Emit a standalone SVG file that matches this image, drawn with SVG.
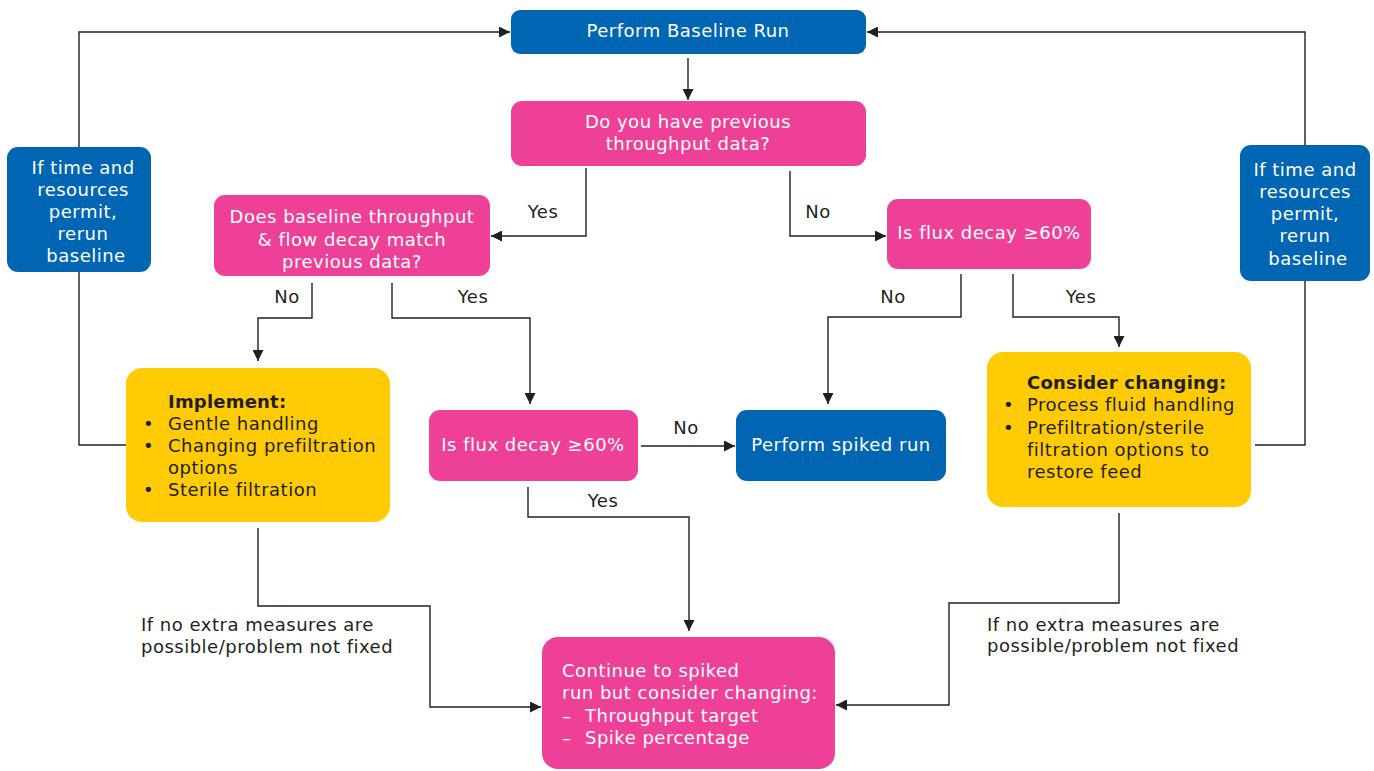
<svg xmlns="http://www.w3.org/2000/svg" width="1374" height="771" viewBox="0 0 1374 771">
<style>
  text { font-family: "DejaVu Sans", Verdana, sans-serif; font-size: 18px; letter-spacing: 0.5px; }
  .w { fill: #ffffff; }
  .d { fill: #231f20; }
  .c { text-anchor: middle; }
  .b { font-weight: bold; letter-spacing: 0.2px; }
  .blue { fill: #0066b3; }
  .pink { fill: #ee4096; }
  .yel { fill: #ffcb05; }
  .ln { fill: none; stroke: #231f20; stroke-width: 1.4; }
</style>
<defs>
  <marker id="arr" viewBox="0 0 10 10" refX="10" refY="5" markerWidth="11" markerHeight="11" markerUnits="userSpaceOnUse" orient="auto">
    <path d="M0,0 L10,5 L0,10 z" fill="#231f20"/>
  </marker>
</defs>
<rect width="1374" height="771" fill="#ffffff"/>

<g id="connectors">
  <path class="ln" d="M688,58 V100" marker-end="url(#arr)"/>
  <path class="ln" d="M79,147 V32 H510" marker-end="url(#arr)"/>
  <path class="ln" d="M79,272 V445 H126"/>
  <path class="ln" d="M1305,145 V32 H867" marker-end="url(#arr)"/>
  <path class="ln" d="M1305,281 V445 H1255"/>
  <path class="ln" d="M586,168 V236 H491" marker-end="url(#arr)"/>
  <path class="ln" d="M790,171 V236 H886" marker-end="url(#arr)"/>
  <path class="ln" d="M312,283 V318 H258 V361" marker-end="url(#arr)"/>
  <path class="ln" d="M392,283 V318 H530 V404" marker-end="url(#arr)"/>
  <path class="ln" d="M961,274 V317 H828 V404" marker-end="url(#arr)"/>
  <path class="ln" d="M1013,274 V317 H1119 V347" marker-end="url(#arr)"/>
  <path class="ln" d="M641,446 H735" marker-end="url(#arr)"/>
  <path class="ln" d="M528,487 V517 H689 V631" marker-end="url(#arr)"/>
  <path class="ln" d="M258,528 V606 H430 V707 H541" marker-end="url(#arr)"/>
  <path class="ln" d="M1119,513 V603 H949 V705 H836" marker-end="url(#arr)"/>
  <text class="d c" x="543" y="218">Yes</text>
  <text class="d c" x="818" y="218">No</text>
  <text class="d c" x="287" y="303">No</text>
  <text class="d c" x="473" y="303">Yes</text>
  <text class="d c" x="893" y="303">No</text>
  <text class="d c" x="1081" y="303">Yes</text>
  <text class="d c" x="686" y="434">No</text>
  <text class="d c" x="603" y="507">Yes</text>
  <text class="d" x="141" y="631">If no extra measures are</text>
  <text class="d" x="141" y="653">possible/problem not fixed</text>
  <text class="d" x="987" y="631">If no extra measures are</text>
  <text class="d" x="987" y="652">possible/problem not fixed</text>
</g>

<g id="baseline">
  <rect class="blue" x="511" y="10" width="355" height="44" rx="9"/>
  <text class="w c" x="688" y="37">Perform Baseline Run</text>
</g>

<g id="q1">
  <rect class="pink" x="511" y="101" width="355" height="65" rx="11"/>
  <text class="w c" x="688" y="128">Do you have previous</text>
  <text class="w c" x="688" y="150">throughput data?</text>
</g>

<g id="rerun-left">
  <rect class="blue" x="7" y="147" width="144" height="125" rx="11"/>
  <text class="w c" x="83" y="174">If time and</text>
  <text class="w c" x="83" y="196">resources</text>
  <text class="w c" x="83" y="218">permit,</text>
  <text class="w c" x="83" y="240">rerun</text>
  <text class="w c" x="86" y="262">baseline</text>
</g>

<g id="rerun-right">
  <rect class="blue" x="1240" y="145" width="130" height="136" rx="11"/>
  <text class="w c" x="1305" y="176">If time and</text>
  <text class="w c" x="1305" y="198">resources</text>
  <text class="w c" x="1305" y="220">permit,</text>
  <text class="w c" x="1305" y="242">rerun</text>
  <text class="w c" x="1308" y="265">baseline</text>
</g>

<g id="q2">
  <rect class="pink" x="214" y="195" width="276" height="81" rx="11"/>
  <text class="w c" x="352" y="223">Does baseline throughput</text>
  <text class="w c" x="352" y="246">&amp; flow decay match</text>
  <text class="w c" x="352" y="268">previous data?</text>
</g>

<g id="q3">
  <rect class="pink" x="887" y="199" width="204" height="70" rx="11"/>
  <text class="w c" x="989" y="239">Is flux decay ≥60%</text>
</g>

<g id="implement">
  <rect class="yel" x="126" y="368" width="264" height="154" rx="16"/>
  <text class="d b" x="168" y="408">Implement:</text>
  <text class="d" x="143" y="430">•</text>
  <text class="d" x="168" y="430">Gentle handling</text>
  <text class="d" x="143" y="452">•</text>
  <text class="d" x="168" y="452">Changing prefiltration</text>
  <text class="d" x="168" y="474">options</text>
  <text class="d" x="143" y="496">•</text>
  <text class="d" x="168" y="496">Sterile filtration</text>
</g>

<g id="q4">
  <rect class="pink" x="429" y="410" width="209" height="71" rx="11"/>
  <text class="w c" x="533" y="451">Is flux decay ≥60%</text>
</g>

<g id="spiked">
  <rect class="blue" x="736" y="410" width="210" height="71" rx="11"/>
  <text class="w c" x="841" y="451">Perform spiked run</text>
</g>

<g id="consider">
  <rect class="yel" x="987" y="352" width="264" height="155" rx="16"/>
  <text class="d b" x="1027" y="389">Consider changing:</text>
  <text class="d" x="1003" y="411">•</text>
  <text class="d" x="1027" y="411">Process fluid handling</text>
  <text class="d" x="1003" y="434">•</text>
  <text class="d" x="1027" y="434">Prefiltration/sterile</text>
  <text class="d" x="1027" y="456">filtration options to</text>
  <text class="d" x="1027" y="478">restore feed</text>
</g>

<g id="continue">
  <rect class="pink" x="542" y="637" width="293" height="132" rx="16"/>
  <text class="w" x="562" y="677">Continue to spiked</text>
  <text class="w" x="562" y="699">run but consider changing:</text>
  <text class="w" x="562" y="722">–</text>
  <text class="w" x="585" y="722">Throughput target</text>
  <text class="w" x="562" y="744">–</text>
  <text class="w" x="585" y="744">Spike percentage</text>
</g>
</svg>
